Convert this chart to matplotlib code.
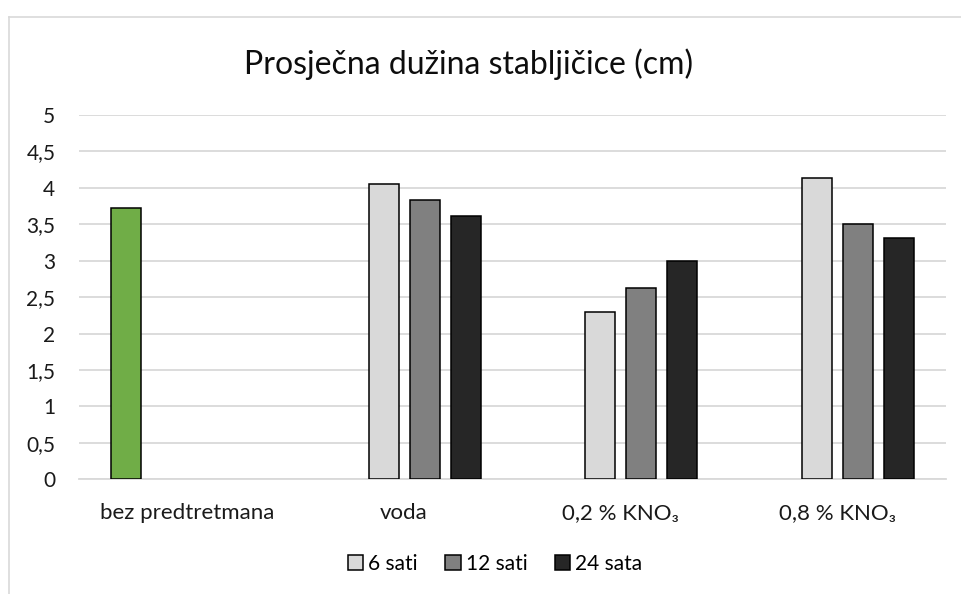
import matplotlib
matplotlib.use("Agg")
import matplotlib.pyplot as plt
import numpy as np
from matplotlib.lines import Line2D

plt.rcParams['font.family'] = ['Lato', 'DejaVu Sans']

categories = ["bez predtretmana", "voda", "0,2 % KNO₃", "0,8 % KNO₃"]
series_names = ["bez predtretmana", "6 sati", "12 sati", "24 sata"]
control = [3.72, np.nan, np.nan, np.nan]
h6 = [np.nan, 4.05, 2.29, 4.13]
h12 = [np.nan, 3.83, 2.63, 3.51]
h24 = [np.nan, 3.62, 3.00, 3.31]
yticks = [0, 0.5, 1, 1.5, 2, 2.5, 3, 3.5, 4, 4.5, 5]
ytick_labels = ["0", "0,5", "1", "1,5", "2", "2,5", "3", "3,5", "4", "4,5", "5"]

colors = ["#70AD47", "#D9D9D9", "#808080", "#262626"]
W, H = 961, 594
fig = plt.figure(figsize=(W/100, H/100), dpi=100)
ax = fig.add_axes([79/W, 1-479.3/H, (946-79)/W, (479.3-115)/H])

x = np.arange(len(categories))
step = 0.189
width = 0.138
all_series = [control, h6, h12, h24]
bars = []
for i, (vals, c, name) in enumerate(zip(all_series, colors, series_names)):
    b = ax.bar(x + (i-1.5)*step, vals, width, color=c, edgecolor="black", linewidth=1.1, label=name, zorder=3)
    bars.append(b)

ax.set_xlim(-0.5, 3.5)
ax.set_ylim(0, 5)
ax.set_yticks(yticks)
ax.set_yticklabels(ytick_labels)
ax.set_xticks(x)
ax.set_xticklabels(categories)
ax.tick_params(axis='both', length=0, labelsize=15, colors="#1a1a1a")
ax.tick_params(axis='x', labelsize=16)
ax.tick_params(axis='y', pad=17)
ax.tick_params(axis='x', pad=17)
ax.grid(axis='y', color="#D9D9D9", linewidth=1.3, zorder=0)
for s in ["top", "right", "left"]:
    ax.spines[s].set_visible(False)
ax.spines["bottom"].set_color("#D9D9D9")
ax.spines["bottom"].set_linewidth(1.3)

fig.text(469/W, 1-64/H, "Prosječna dužina stabljičice (cm)", ha="center", va="center", fontsize=23, color="#0d0d0d")

leg = fig.legend(handles=bars[1:], labels=series_names[1:], loc="center", bbox_to_anchor=(495/W, 1-564/H),
                 ncol=3, frameon=False, fontsize=15, handlelength=0.75, handleheight=0.75,
                 handletextpad=0.25, columnspacing=1.3)

fig.add_artist(Line2D([8.5/W, 8.5/W], [0, 1-16.5/H], color="#D9D9D9", linewidth=1.2, transform=fig.transFigure))
fig.add_artist(Line2D([8.5/W, 1], [1-16.5/H, 1-16.5/H], color="#D9D9D9", linewidth=1.2, transform=fig.transFigure))

fig.savefig("out.png", dpi=100)
